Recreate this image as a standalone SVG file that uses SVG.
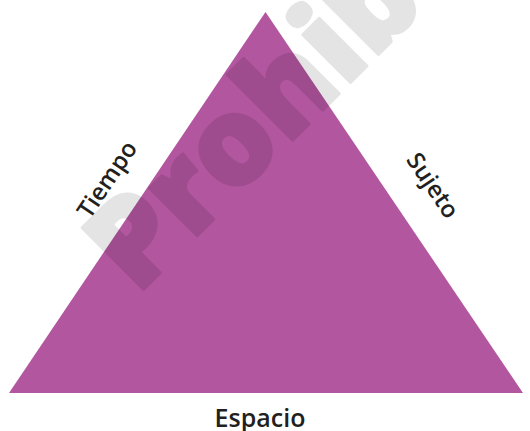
<svg xmlns="http://www.w3.org/2000/svg" width="530" height="431" viewBox="0 0 530 431">
<style>
.lbl{font-family:"Open Sans","Liberation Sans",sans-serif;font-weight:600;font-size:24px;fill:#231f20;text-anchor:middle}
.wm{font-family:"Open Sans","Liberation Sans",sans-serif;font-weight:800;font-size:122px;fill:#000;stroke:#000;stroke-width:3;stroke-linejoin:round}
</style>
<rect width="530" height="431" fill="#fff"/>
<g id="triangle">
<polygon points="265.5,12 523,393 9,393" fill="#b256a0"/>
</g>
<g id="watermark" opacity="0.1">
<text class="wm" transform="translate(137,296) rotate(-45)" x="0" y="0">Prohib</text>
</g>
<g id="labels">
<text id="tiempo" class="lbl" transform="translate(114,184) rotate(-56)" x="0" y="0">Tiempo</text>
<text id="sujeto" class="lbl" transform="translate(426,190) rotate(56)" x="0" y="0">Sujeto</text>
<text id="espacio" class="lbl" x="260" y="427" style="font-size:25px">Espacio</text>
</g>
</svg>
